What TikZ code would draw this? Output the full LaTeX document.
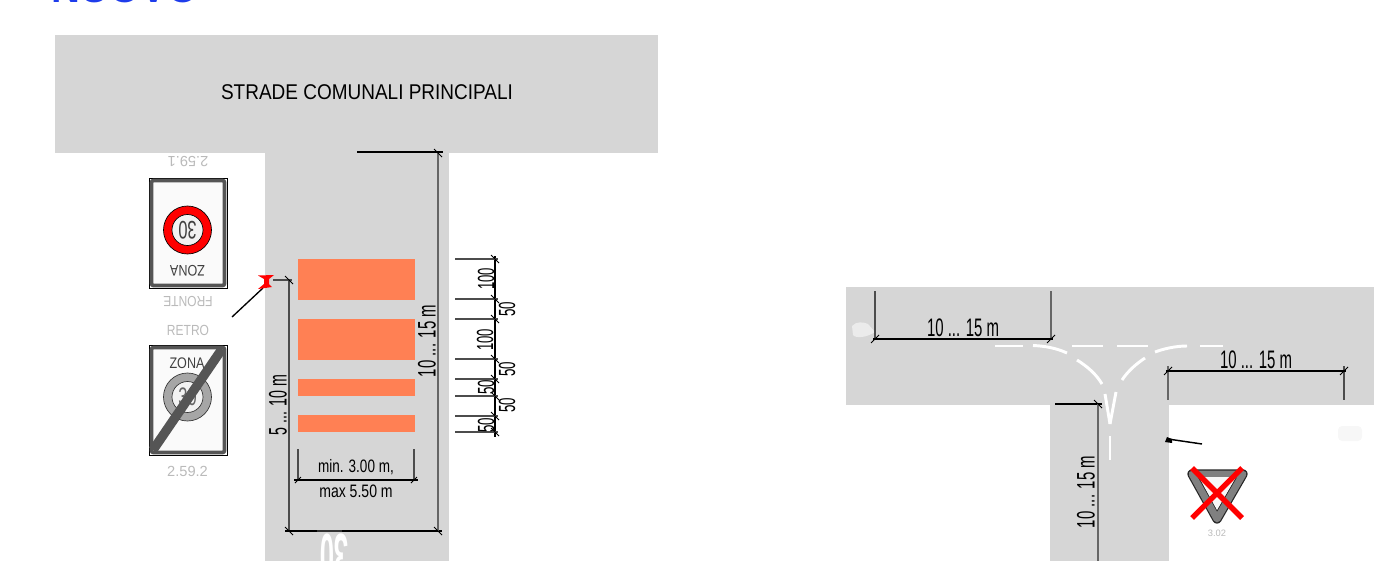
\documentclass[tikz,border=0pt]{standalone}
\usepackage{fontspec}
\setmainfont{Liberation Sans}
\newcommand{\sqz}[2]{\scalebox{#1}[1]{#2}}
\begin{document}
\begin{tikzpicture}[x=0.75pt,y=-0.75pt,
  road/.style={fill=roadgrey,draw=none},
  stripe/.style={fill=stripeorange,draw=none},
  dim/.style={draw=black,line width=0.8pt},
  ext/.style={draw=black!70,line width=0.8pt},
  extbold/.style={draw=black!60,line width=1.1pt},
  tick/.style={draw=black,line width=0.6pt},
  dimtext/.style={font=\fontsize{19}{19}\selectfont,inner sep=0pt,text=black},
  widthtext/.style={font=\fontsize{13.5}{13.5}\selectfont,inner sep=0pt,text=black},
  smalldim/.style={font=\fontsize{17.5}{17.5}\selectfont,inner sep=0pt,rotate=90,text=black},
  faint/.style={font=\fontsize{11}{11}\selectfont,inner sep=0pt,text=black!27},
  paint/.style={draw=white,line width=2.2pt},
  signbox/.style={draw=black,line width=0.7pt,fill=white},
  signframe/.style={draw=signgrey,line width=2.8pt,rounded corners=1.5pt,fill=white!98!black}]
\definecolor{roadgrey}{RGB}{214,214,214}
\definecolor{stripeorange}{RGB}{255,128,84}
\definecolor{signgrey}{RGB}{85,85,85}
\definecolor{titleblue}{RGB}{30,60,235}
\useasboundingbox (0,0) rectangle (1381,561);
\clip (0,0) rectangle (1381,561);
% title cut by the page top
\node[inner sep=0pt,anchor=base,text=titleblue,font=\bfseries\fontsize{30}{30}\selectfont] (title) at (125,2) {NUOVO};
% left road
\fill[road] (55,35) rectangle (658,153);
\fill[road] (265,153) rectangle (449,561);
\node[inner sep=0pt,font=\fontsize{16}{16}\selectfont] (lname) at (367,92) {\sqz{0.89}{STRADE COMUNALI PRINCIPALI}};
% stripes
\fill[stripe] (298,259) rectangle (415,300);
\fill[stripe] (298,319) rectangle (415,360);
\fill[stripe] (298,379) rectangle (415,396);
\fill[stripe] (298,415) rectangle (415,432);
% sign 1
\node[faint,rotate=180] (s1a) at (188,162) {2.59.1};
\draw[signbox] (149,178) rectangle (227,288);
\draw[signframe] (151.5,180.5) rectangle (224.5,285.5);
\fill[red,draw=black,line width=0.5pt] (187.5,230) circle (24);
\fill[white!95!black,draw=black,line width=0.5pt] (187.5,230) circle (15.5);
\node[inner sep=0pt,rotate=180,font=\fontsize{19}{19}\selectfont,text=black!75] (s1b) at (187.5,230) {\sqz{0.65}{30}};
\node[inner sep=0pt,rotate=180,font=\fontsize{11.5}{11.5}\selectfont,text=black!75] (s1c) at (187.5,271) {\sqz{0.82}{ZONA}};
\node[faint,rotate=180] (s1d) at (188,302) {\sqz{0.82}{FRONTE}};
\node[faint] (s2a) at (188,330) {\sqz{0.82}{RETRO}};
% sign 2
\draw[signbox] (149,345) rectangle (227,455);
\draw[signframe] (151.5,347.5) rectangle (224.5,452.5);
\node[inner sep=0pt,font=\fontsize{11.5}{11.5}\selectfont,text=black!75] (s2b) at (187,363) {\sqz{0.82}{ZONA}};
\fill[black!35,draw=black!80,line width=0.5pt] (187.5,397) circle (24);
\fill[white!95!black,draw=black!80,line width=0.5pt] (187.5,397) circle (15.5);
\node[inner sep=0pt,font=\fontsize{19}{19}\selectfont,text=black!60] (s2c) at (187.5,397) {\sqz{0.65}{30}};
\draw[signgrey,line width=7pt] (222,349) -- (153,450);
\node[faint] (s2d) at (187.5,471) {2.59.2};
% red marker and leader
\draw[black,line width=1pt] (232,317) -- (263,288);
\fill[red] (258,275.5) -- (274,275) -- (269,279) -- (269,284) -- (272,287) -- (258,289) -- (264,284) -- (264,279) -- cycle;
% dimension lines left
\draw[ext] (273,280) -- (292,280);
\draw[ext] (289,280) -- (289,531);
\draw[dim] (285,531) -- (442,531);
\draw[extbold] (438,153) -- (438,531);
\draw[dim] (357,152) -- (443,152);
\draw[line width=1.1pt,black!80] (317,531) -- (342,531);
\foreach \p in {(289,280),(289,531),(438,531),(438,153)}
  \draw[tick] \p ++(-4,-4) -- ++(8,8);
\node[dimtext,rotate=90] (d1) at (278,405) {\sqz{0.56}{5 ... 10 m}};
\node[dimtext,rotate=90] (d2) at (427,341) {\sqz{0.59}{10 ... 15 m}};
% width dimension
\draw[ext] (298,449) -- (298,480);
\draw[ext] (414,449) -- (414,480);
\draw[dim] (294,480) -- (418,480);
\foreach \p in {(298,480),(414,480)}
  \draw[tick] \p ++(-3,3) -- ++(6,-6);
\node[widthtext] (d3) at (356,467) {\sqz{0.75}{min. 3.00 m,}};
\node[widthtext] (d4) at (356,491) {\sqz{0.78}{max 5.50 m}};
% stacked dimensions at right
\draw[dim] (495,256) -- (495,437);
\foreach \y in {259,299,319,359,379,396,416,432}{
  \draw[ext] (455,\y) -- (498,\y);
  \draw[tick] (491,\y-4) -- (499,\y+4);
}
\node[smalldim] (h1) at (486,279) {\sqz{0.56}{100}};
\node[smalldim] (h2) at (507,309.5) {\sqz{0.57}{50}};
\node[smalldim] (h3) at (485,340) {\sqz{0.56}{100}};
\node[smalldim] (h4) at (507,369.5) {\sqz{0.57}{50}};
\node[smalldim] (h5) at (486,387.5) {\sqz{0.57}{50}};
\node[smalldim] (h6) at (507,405.5) {\sqz{0.57}{50}};
\node[smalldim] (h7) at (486,425) {\sqz{0.57}{50}};
% road marking on the left road
\node[inner sep=0pt,rotate=180,font=\bfseries\fontsize{47}{47}\selectfont,text=white] (m1) at (334,556) {\sqz{0.41}{30}};
% right road
\fill[road] (846,287) rectangle (1374,405);
\fill[road] (1050,405) rectangle (1169,561);
% white markings
\draw[paint] (995,346) -- (1023,346);
\draw[paint] (1033,345.5) .. controls (1045,346) and (1056,348) .. (1067,353);
\draw[paint] (1072,346) -- (1103,346);
\draw[paint] (1077,360) .. controls (1088,367) and (1096,374) .. (1102,384);
\draw[paint] (1117,346) -- (1148,346);
\draw[paint] (1155,352) .. controls (1163,349) and (1175,346) .. (1187,346);
\draw[paint] (1200,346) -- (1223,346);
\draw[paint] (1122,380) .. controls (1128,371) and (1136,364) .. (1145,358);
\draw[paint] (1105,394) -- (1110,424);
\draw[paint] (1116,392) -- (1110,424);
\draw[paint] (1110,436) -- (1110,460);
% white smudges
\fill[white!92!black] (852,326) .. controls (856,321) and (864,322) .. (868,324) -- (875,332) .. controls (868,337) and (856,339) .. (853,335) -- cycle;
\fill[white!97!black,rounded corners=3pt] (1338,426) rectangle (1362,441);
% right dimensions
\draw[ext] (875,291) -- (875,340);
\draw[extbold] (1051,291) -- (1051,340);
\draw[dim] (873,339) -- (1053,339);
\node[dimtext] (d5) at (963,328) {\sqz{0.59}{10 ... 15 m}};
\draw[extbold] (1168,366) -- (1168,400);
\draw[ext] (1344,366) -- (1344,400);
\draw[dim] (1166,371) -- (1346,371);
\node[dimtext] (d6) at (1256,360) {\sqz{0.59}{10 ... 15 m}};
\draw[dim] (1055,404) -- (1102,404);
\draw[extbold] (1098,404) -- (1098,561);
\foreach \p in {(875,339),(1051,339),(1168,371),(1344,371)}
  \draw[tick] \p ++(-4,4) -- ++(8,-8);
\draw[tick] (1094,400) -- (1102,408);
\node[dimtext,rotate=90] (d7) at (1086,492) {\sqz{0.59}{10 ... 15 m}};
% black marker and leader
\draw[black,line width=1.1pt] (1168,439) -- (1202,444);
\fill[black] (1165,442) -- (1167,437) -- (1172,439) -- (1172,443) -- cycle;
% give way sign
\draw[black!85,line join=round,line width=7pt] (1192,474) -- (1243,474) -- (1217,519) -- cycle;
\draw[black!50,line join=round,line width=5.2pt] (1192,474) -- (1243,474) -- (1217,519) -- cycle;
\fill[white!97!black] (1199,477) -- (1236,477) -- (1217,510) -- cycle;
\draw[red,line width=4pt] (1192,468) -- (1242,518);
\draw[red,line width=4pt] (1242,468) -- (1192,518);
\node[faint,font=\fontsize{7}{7}\selectfont] (s3) at (1217,533) {3.02};
\end{tikzpicture}
\end{document}
